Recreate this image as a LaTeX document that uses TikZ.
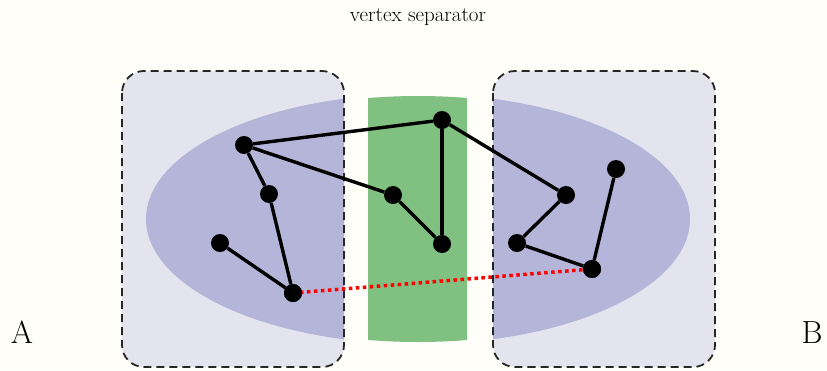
\documentclass[tikz,border=0pt]{standalone}
\usetikzlibrary{calc}
\definecolor{paper}{RGB}{255,254,248}
\definecolor{boxfill}{RGB}{228,228,239}
\definecolor{blob}{RGB}{181,181,217}
\definecolor{sepgreen}{RGB}{128,192,128}
\begin{document}
\begin{tikzpicture}[x=1pt,y=-1pt,
  vtx/.style={circle,fill=black,inner sep=0pt,minimum size=18pt},
  edge/.style={line width=3.4pt},
  cut/.style={red,line width=3.5pt,dash pattern=on 3.5pt off 3.5pt},
  side/.style={draw=black!85,line width=1.8pt,dash pattern=on 8pt off 5pt,rounded corners=22pt},
  lbl/.style={font=\fontsize{32}{36}\selectfont,anchor=base}]
  \useasboundingbox (0,0) rectangle (827,370);
  \fill[paper] (0,0) rectangle (827,370);

  % the two sides and the component blob clipped to them
  \fill[boxfill,rounded corners=22pt] (122,71) rectangle (344,367);
  \fill[boxfill,rounded corners=22pt] (493,71) rectangle (715,367);
  \begin{scope}
    \clip (122,71) rectangle (344,367) (493,71) rectangle (715,367);
    \fill[blob] (418,219) ellipse [x radius=272, y radius=125];
  \end{scope}
  \begin{scope}
    \clip (368,0) rectangle (467,370);
    \fill[sepgreen] (418,219) ellipse [x radius=272, y radius=123];
  \end{scope}
  \draw[side] (122,71) rectangle (344,367);
  \draw[side] (493,71) rectangle (715,367);

  % vertices
  \node[vtx] (a) at (244,145) {};
  \node[vtx] (b) at (269,194) {};
  \node[vtx] (c) at (220,243) {};
  \node[vtx] (d) at (293,293) {};
  \node[vtx] (e) at (442,120) {};
  \node[vtx] (f) at (393,195) {};
  \node[vtx] (g) at (442,244) {};
  \node[vtx] (h) at (566,195) {};
  \node[vtx] (i) at (517,243) {};
  \node[vtx] (j) at (616,169) {};
  \node[vtx] (k) at (592,269) {};

  % edges
  \draw[cut] (d.center) -- (k.center);
  \draw[edge] (a) -- (e);
  \draw[edge] (a) -- (f);
  \draw[edge] (a) -- (b);
  \draw[edge] (b) -- (d);
  \draw[edge] (c) -- (d);
  \draw[edge] (e) -- (g);
  \draw[edge] (f) -- (g);
  \draw[edge] (e) -- (h);
  \draw[edge] (h) -- (i);
  \draw[edge] (i) -- (k);
  \draw[edge] (k) -- (j);
  \node[vtx] at (d) {};
  \node[vtx] at (k) {};

  % labels
  \node[lbl] (la) at (22,343) {A};
  \node[lbl] (lb) at (812,343) {B};
  \node[font=\fontsize{21}{23}\selectfont,anchor=base] (title) at (418,21) {vertex separator};
\end{tikzpicture}
\end{document}
